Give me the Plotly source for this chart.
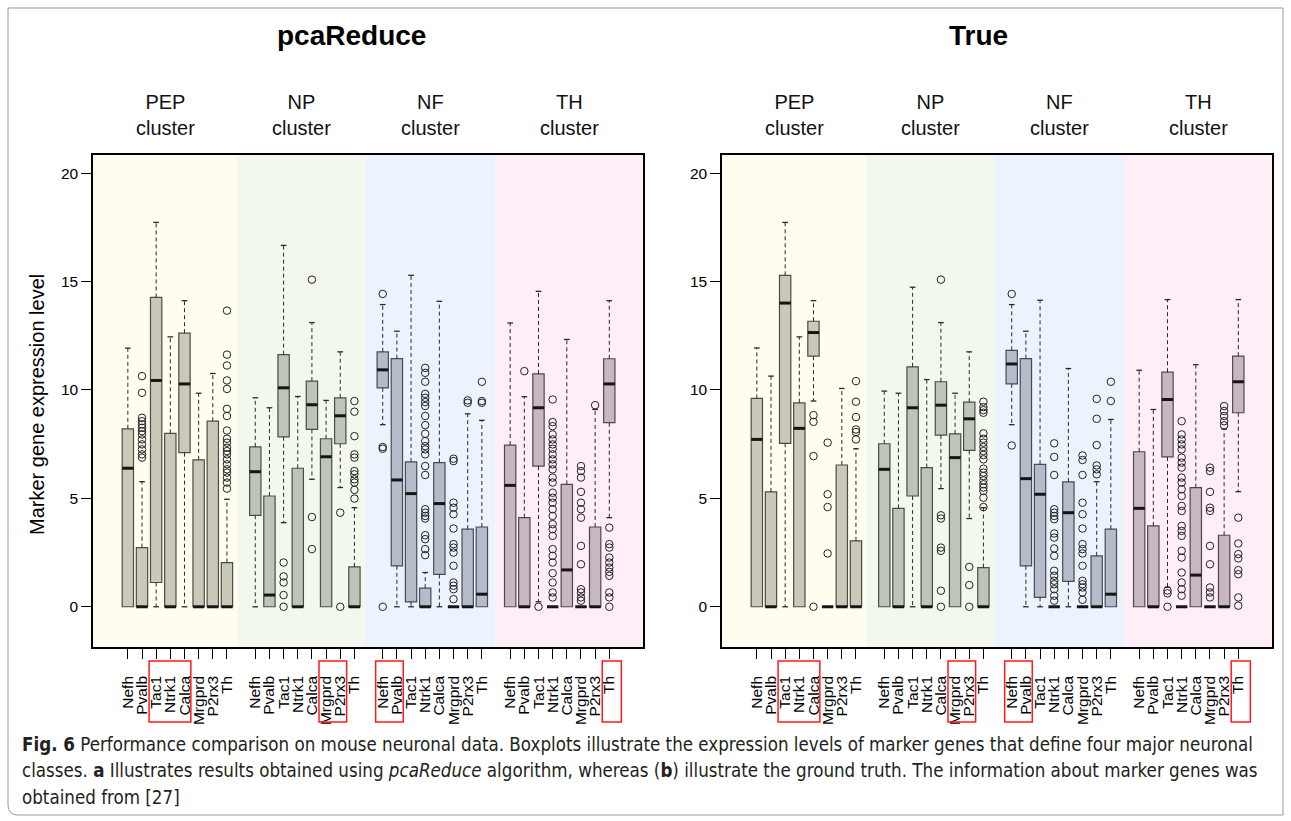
import plotly.graph_objects as go

W, H = 1291, 821

genes = ["Nefh", "Pvalb", "Tac1", "Ntrk1", "Calca", "Mrgprd", "P2rx3", "Th"]
clusters = ["PEP", "NP", "NF", "TH"]
panel_titles = ["pcaReduce", "True"]
y_ticks = [0, 5, 10, 15, 20]

# ---- pcaReduce panel (order: cluster-major, gene-minor) ----
pca_q1 = [0, 0, 1.12, 0, 7.11, 0, 0, 0,
          4.22, 0, 7.84, 0, 8.18, 0, 7.52, 0,
          10.10, 1.89, 0.23, 0, 1.49, 0, 0, 0,
          0, 0, 6.49, 0, 0, 0, 0, 8.49]
pca_med = [6.39, 0, 10.44, 0, 10.28, 0, 0, 0,
           6.23, 0.54, 10.10, 0, 9.32, 6.92, 8.81, 0,
           10.93, 5.85, 5.22, 0, 4.76, 0, 0, 0.58,
           5.60, 0, 9.18, 0, 1.70, 0, 0, 10.28]
pca_q3 = [8.21, 2.73, 14.27, 8.00, 12.62, 6.78, 8.56, 2.04,
          7.38, 5.11, 11.63, 6.39, 10.41, 7.75, 9.64, 1.84,
          11.76, 11.45, 6.68, 0.86, 6.65, 0, 3.58, 3.68,
          7.46, 4.11, 10.74, 0, 5.65, 0, 3.68, 11.44]
pca_lo = [0, 0, 0, 0, 0, 0, 0, 0,
          0, 0, 3.88, 0, 5.88, 0, 5.50, 0,
          8.40, 0, 0, 0, 0, 0, 0, 0,
          0, 0, 0.23, 0, 0, 0, 0, 4.11]
pca_hi = [11.93, 5.77, 17.73, 12.45, 14.12, 9.85, 10.76, 4.96,
          9.64, 9.18, 16.67, 9.70, 13.11, 9.52, 11.76, 4.57,
          13.94, 12.71, 15.29, 1.58, 14.09, 0, 8.90, 8.60,
          13.09, 9.69, 14.55, 0, 12.33, 0, 9.10, 14.12]
pca_out = [
    [], [10.64, 9.87, 8.72, 8.56, 8.41, 8.26, 8.10, 7.95, 7.72, 7.49, 7.26, 7.03, 6.88],
    [], [], [], [], [],
    [13.66, 11.63, 11.13, 10.44, 10.05, 9.13, 8.80, 8.13, 7.75, 7.57, 7.34, 7.18, 7.03,
     6.80, 6.57, 6.34, 6.19, 5.96, 5.73, 5.45],
    [], [], [2.04, 1.40, 1.12, 0.54, 0], [], [15.09, 4.14, 2.66], [], [4.34, 0],
    [9.49, 9.0, 7.87, 7.03, 6.88, 6.26, 6.11, 5.88, 5.73, 5.39, 4.99],
    [14.43, 7.37, 7.29, 0], [], [],
    [11.02, 10.79, 10.38, 9.82, 9.64, 9.44, 9.26, 8.80, 8.38, 7.98, 7.64, 7.41, 7.26, 7.03,
     6.49, 6.08, 4.50, 4.34, 4.19, 4.07, 3.30, 3.12, 2.66, 2.38],
    [],
    [6.83, 6.72, 4.80, 4.57, 4.27, 3.61, 2.89, 2.73, 2.50, 1.89, 1.12, 0.97, 0.81, 0.35],
    [9.52, 9.41], [10.38, 9.49, 9.41],
    [], [10.87], [0],
    [9.56, 8.52, 8.33, 7.95, 7.72, 7.49, 7.29, 7.03, 6.80, 6.57, 6.34, 5.96, 5.73, 5.26,
     5.03, 4.80, 4.50, 4.19, 3.81, 3.58, 3.27, 2.66, 2.35, 2.04, 1.55, 1.12, 0.66, 0.43],
    [],
    [6.49, 6.26, 5.96, 5.30, 4.80, 4.50, 4.11, 2.81, 1.96, 0.81, 0.66, 0.43, 0.28],
    [9.30],
    [3.65, 2.89, 2.73, 2.27, 2.04, 1.81, 1.61, 1.43, 0.66, 0.43, 0],
]

# ---- True (ground truth) panel ----
true_q1 = [0, 0, 7.54, 0, 11.56, 0, 0, 0,
           0, 0, 5.11, 0, 7.92, 0, 7.21, 0,
           10.28, 1.89, 0.43, 0, 1.17, 0, 0, 0,
           0, 0, 6.91, 0, 0, 0, 0, 8.95]
true_med = [7.72, 0, 14.01, 8.23, 12.65, 0, 0, 0,
            6.34, 0, 9.18, 0, 9.30, 6.88, 8.67, 0,
            11.20, 5.91, 5.19, 0, 4.34, 0, 0, 0.58,
            4.54, 0, 9.56, 0, 1.46, 0, 0, 10.38]
true_q3 = [9.61, 5.30, 15.29, 9.41, 13.17, 0, 6.54, 3.04,
           7.52, 4.54, 11.07, 6.42, 10.38, 7.98, 9.44, 1.81,
           11.83, 11.45, 6.57, 0, 5.76, 0, 2.35, 3.58,
           7.15, 3.73, 10.82, 0, 5.50, 0, 3.30, 11.56]
true_lo = [0, 0, 0, 0, 9.49, 0, 0, 0,
           0, 0, 0, 0, 5.45, 0, 4.07, 0,
           8.40, 0, 0, 0, 0, 0, 0, 0,
           0, 0, 0.90, 0, 0, 0, 0, 5.31]
true_hi = [11.94, 10.64, 17.73, 12.45, 14.12, 0, 10.07, 7.29,
           9.95, 9.85, 14.74, 10.48, 13.11, 9.85, 11.76, 4.57,
           13.94, 12.71, 14.14, 0, 10.99, 0, 5.77, 8.64,
           10.91, 9.10, 14.17, 0, 11.17, 0, 8.20, 14.17]
true_out = [
    [], [], [], [], [8.84, 8.53, 6.95, 0], [7.57, 5.19, 4.60, 2.46], [],
    [10.41, 9.46, 8.75, 8.18, 8.06, 7.72],
    [], [], [], [], [15.09, 4.22, 4.07, 2.73, 2.58, 0.74, 0], [], [1.84, 1.0, 0],
    [9.46, 9.21, 9.07, 8.95, 8.0, 7.75, 7.57, 7.37, 7.18, 7.0, 6.80, 6.37, 6.19, 6.03,
     5.83, 5.65, 5.50, 5.34, 5.03, 4.60],
    [14.43, 7.44], [], [],
    [7.54, 6.91, 6.08, 4.50, 4.34, 4.19, 4.04, 3.38, 3.19, 2.69, 2.35, 1.66, 1.43, 1.20,
     1.04, 0.81, 0.51, 0.28],
    [],
    [6.98, 6.77, 6.08, 4.80, 4.27, 3.61, 2.89, 2.66, 2.46, 1.89, 1.20, 1.04, 0.89, 0.66, 0.32],
    [9.59, 8.67, 7.46, 6.52, 6.34, 6.11], [10.38, 9.49],
    [], [], [0.75, 0.62, 0],
    [8.56, 7.95, 7.72, 7.49, 7.26, 6.88, 6.65, 6.42, 5.96, 5.73, 5.42, 5.11, 4.65, 4.42,
     3.73, 3.50, 3.27, 2.58, 2.27, 1.58, 1.12, 0.81, 0.51],
    [],
    [6.42, 6.26, 5.30, 4.57, 4.42, 2.81, 1.96, 0.89, 0.66, 0.43],
    [9.26, 9.03, 8.80, 8.56, 8.37],
    [4.11, 2.92, 2.43, 2.23, 1.69, 1.50, 0.43, 0.05],
]

# highlighted marker genes (red frames under the axis): (cluster, first gene, last gene)
highlights = [("PEP", "Tac1", "Calca"), ("NP", "Mrgprd", "P2rx3"),
              ("NF", "Nefh", "Pvalb"), ("TH", "Th", "Th")]

caption_lines = [
    "<b>Fig. 6</b> Performance comparison on mouse neuronal data. Boxplots illustrate the expression levels of marker genes that define four major neuronal",
    "classes. <b>a</b> Illustrates results obtained using <i>pcaReduce</i> algorithm, whereas (<b>b</b>) illustrate the ground truth. The information about marker genes was",
    "obtained from [27]",
]

# ---------------- styling ----------------
bg_colors = ["#fefdf0", "#f2f8ee", "#edf3fd", "#fdeef7"]
box_fill = ["#cac8b8", "#bdc4ba", "#b5bbc8", "#c7b7c3"]
box_edge = ["#4d4c40", "#465046", "#464c58", "#544650"]
bg_edges = [-1.46, 8.74, 17.8, 26.95, 37.38]
x_range = [-1.46, 37.38]
y_range = [-1.856, 20.84]
BOXW = 0.8
CAPW = 0.4
FONT = "Liberation Sans, Arial, Helvetica, sans-serif"


def gene_pos(ci, gi):
    return ci * 9 + gi + 1


panels = [
    (pca_q1, pca_med, pca_q3, pca_lo, pca_hi, pca_out),
    (true_q1, true_med, true_q3, true_lo, true_hi, true_out),
]

fig = go.Figure()
shapes = []
annotations = []

for p, (q1s, meds, q3s, los, his, outs) in enumerate(panels):
    xa = "x" if p == 0 else "x2"
    ya = "y" if p == 0 else "y2"
    for ci in range(len(clusters)):
        idx = list(range(ci * 8, ci * 8 + 8))
        pos = [gene_pos(ci, i - ci * 8) for i in idx]
        # whiskers (dashed)
        wx, wy, cx, cy = [], [], [], []
        for k, i in enumerate(idx):
            x = pos[k]
            if his[i] > q3s[i]:
                wx += [x, x, None]; wy += [q3s[i], his[i], None]
                cx += [x - CAPW / 2, x + CAPW / 2, None]; cy += [his[i], his[i], None]
            if los[i] < q1s[i]:
                wx += [x, x, None]; wy += [q1s[i], los[i], None]
                cx += [x - CAPW / 2, x + CAPW / 2, None]; cy += [los[i], los[i], None]
        fig.add_trace(go.Scatter(x=wx, y=wy, mode="lines", xaxis=xa, yaxis=ya,
                                 line=dict(color="#2a2a2a", width=1, dash="4px,3px"),
                                 hoverinfo="skip", showlegend=False))
        fig.add_trace(go.Scatter(x=cx, y=cy, mode="lines", xaxis=xa, yaxis=ya,
                                 line=dict(color="#2a2a2a", width=1.3),
                                 hoverinfo="skip", showlegend=False))
        # boxes
        fig.add_trace(go.Bar(x=pos, base=[q1s[i] for i in idx],
                             y=[q3s[i] - q1s[i] for i in idx], width=BOXW,
                             xaxis=xa, yaxis=ya,
                             marker=dict(color=box_fill[ci],
                                         line=dict(color=box_edge[ci], width=1.2)),
                             hoverinfo="skip", showlegend=False))
        # medians
        mx, my = [], []
        for k, i in enumerate(idx):
            mx += [pos[k] - BOXW / 2, pos[k] + BOXW / 2, None]
            my += [meds[i], meds[i], None]
        fig.add_trace(go.Scatter(x=mx, y=my, mode="lines", xaxis=xa, yaxis=ya,
                                 line=dict(color="#151515", width=3),
                                 hoverinfo="skip", showlegend=False))
        # outliers
        ox, oy = [], []
        for k, i in enumerate(idx):
            ox += [pos[k]] * len(outs[i]); oy += outs[i]
        fig.add_trace(go.Scatter(x=ox, y=oy, mode="markers", xaxis=xa, yaxis=ya,
                                 marker=dict(symbol="circle-open", size=7.5, color="#222222",
                                             line=dict(width=1)),
                                 hoverinfo="skip", showlegend=False))
        # backgrounds
        shapes.append(dict(type="rect", xref=xa, yref=ya + " domain",
                           x0=bg_edges[ci], x1=bg_edges[ci + 1], y0=0, y1=1,
                           fillcolor=bg_colors[ci], line=dict(width=0), layer="below"))
        # cluster labels
        annotations.append(dict(xref=xa, yref="paper",
                                x=(bg_edges[ci] + bg_edges[ci + 1]) / 2, y=1 - 115.5 / H,
                                text=clusters[ci] + "<br>cluster", showarrow=False,
                                font=dict(family=FONT, size=20, color="#111"),
                                xanchor="center", yanchor="middle"))
    # red frames around highlighted tick labels
    for cl, g0, g1 in highlights:
        ci = clusters.index(cl)
        xa0 = gene_pos(ci, genes.index(g0)) - 0.5
        xa1 = gene_pos(ci, genes.index(g1)) + (0.85 if g0 == g1 else 0.45)
        shapes.append(dict(type="rect", xref=xa, yref="paper", x0=xa0, x1=xa1,
                           y0=1 - 722 / H, y1=1 - 661 / H,
                           line=dict(color="#ff1a1a", width=1.5), layer="above"))

# panel titles
for xpx, t in zip([351, 978], panel_titles):
    annotations.append(dict(xref="paper", yref="paper", x=xpx / W, y=1 - 36 / H, text="<b>" + t + "</b>",
                            showarrow=False, xanchor="center", yanchor="middle",
                            font=dict(family=FONT, size=28, color="#000")))
# y-axis title
annotations.append(dict(xref="paper", yref="paper", x=37 / W, y=1 - 405 / H,
                        text="Marker gene expression level", textangle=-90, showarrow=False,
                        xanchor="center", yanchor="middle",
                        font=dict(family=FONT, size=20, color="#000")))
# caption
for k, line in enumerate(caption_lines):
    annotations.append(dict(xref="paper", yref="paper", x=20 / W, y=1 - (744 + 26.5 * k) / H,
                            text=line, showarrow=False, xanchor="left", yanchor="middle",
                            font=dict(family="Liberation Sans Narrow, DejaVu Sans Condensed, sans-serif",
                                      size=18.6, color="#231f20")))
# outer frame
shapes.append(dict(type="path", xref="paper", yref="paper",
                   path=f"M {8/W},{1-8/H} L {8/W},{1-805/H} Q {8/W},{1-815/H} {18/W},{1-815/H} "
                        f"L {1283/W},{1-815/H} L {1283/W},{1-8/H} Z",
                   line=dict(color="#9a9a9a", width=1), layer="below"))

tickvals = [gene_pos(ci, gi) for ci in range(4) for gi in range(8)]
ticktext = [g for ci in range(4) for g in genes]

xcommon = dict(range=x_range, tickmode="array", tickvals=tickvals, ticktext=ticktext,
               tickangle=-90, ticks="outside", ticklen=10, tickwidth=1, tickcolor="#000",
               ticklabelstandoff=11,
               showline=True, linecolor="#000", linewidth=1.5, mirror=True,
               showgrid=False, zeroline=False, automargin=False,
               tickfont=dict(family=FONT, size=15.5, color="#000"))
ycommon = dict(range=y_range, tickmode="array", tickvals=y_ticks,
               ticks="outside", ticklen=10, tickwidth=1, tickcolor="#000",
               showline=True, linecolor="#000", linewidth=1.5, mirror=True,
               showgrid=False, zeroline=False, automargin=False,
               domain=[1 - 647 / H, 1 - 155 / H],
               tickfont=dict(family=FONT, size=15.5, color="#000"))

fig.update_layout(
    template="none",
    width=W, height=H, autosize=False,
    margin=dict(l=0, r=0, t=0, b=0),
    paper_bgcolor="#ffffff", plot_bgcolor="#ffffff",
    barmode="overlay", showlegend=False,
    xaxis=dict(xcommon, domain=[93 / W, 643 / W], anchor="y"),
    yaxis=dict(ycommon, anchor="x"),
    xaxis2=dict(xcommon, domain=[722 / W, 1272 / W], anchor="y2"),
    yaxis2=dict(ycommon, anchor="x2"),
    shapes=shapes, annotations=annotations,
)

fig.write_html("out.html", config={"displayModeBar": False},
               post_script="document.body.style.margin='0';document.body.style.overflow='hidden';")
